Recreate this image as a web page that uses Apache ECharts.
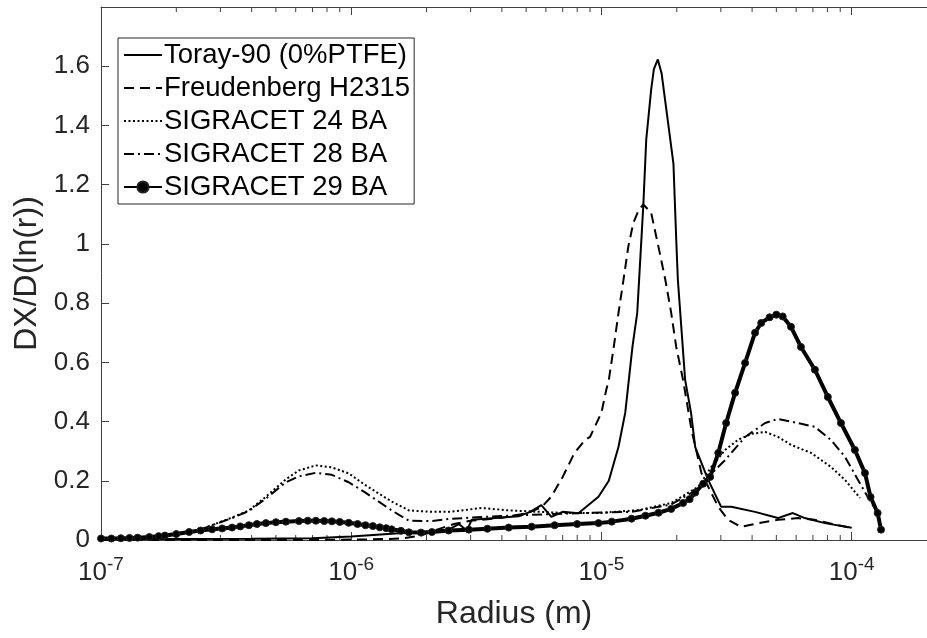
<!DOCTYPE html>
<html>
<head>
<meta charset="utf-8">
<script src="https://cdn.jsdelivr.net/npm/echarts@6/dist/echarts.min.js"></script>
<style>
html,body{margin:0;padding:0;background:#fff;}
#chart{width:927px;height:638px;}
</style>
</head>
<body>
<div id="chart"></div>
<script>
// ---------- data ----------
const seriesNames = ['Toray-90 (0%PTFE)', 'Freudenberg H2315', 'SIGRACET 24 BA', 'SIGRACET 28 BA', 'SIGRACET 29 BA'];

const radiusToray = [1e-7, 2e-7, 4e-7, 7e-7, 1e-6, 1.5e-6, 2e-6, 2.45e-6, 2.69e-6, 2.9e-6, 3.03e-6, 3.9e-6, 4.66e-6, 5.2e-6, 5.75e-6, 6.31e-6, 7.0e-6, 8.09e-6, 9.73e-6, 1.07e-5, 1.17e-5, 1.245e-5, 1.33e-5, 1.39e-5, 1.47e-5, 1.51e-5, 1.58e-5, 1.62e-5, 1.68e-5, 1.74e-5, 1.81e-5, 1.94e-5, 1.99e-5, 2.02e-5, 2.16e-5, 2.28e-5, 2.37e-5, 2.67e-5, 3.01e-5, 3.30e-5, 4.11e-5, 5.07e-5, 5.82e-5, 6.50e-5, 7.82e-5, 1.0e-4];
const valueToray = [0.003, 0.003, 0.004, 0.006, 0.012, 0.022, 0.028, 0.035, 0.054, 0.032, 0.068, 0.075, 0.080, 0.095, 0.118, 0.078, 0.095, 0.090, 0.146, 0.200, 0.315, 0.430, 0.652, 0.767, 1.130, 1.352, 1.521, 1.590, 1.623, 1.575, 1.464, 1.270, 1.014, 0.879, 0.541, 0.430, 0.314, 0.203, 0.112, 0.112, 0.095, 0.074, 0.091, 0.074, 0.057, 0.041];

const radiusFreud = [1e-7, 3e-7, 7e-7, 1.2e-6, 1.6e-6, 1.9e-6, 2.2e-6, 2.6e-6, 3.0e-6, 4.0e-6, 5.0e-6, 5.75e-6, 6.3e-6, 7.0e-6, 7.8e-6, 8.6e-6, 9.0e-6, 1.0e-5, 1.045e-5, 1.07e-5, 1.12e-5, 1.17e-5, 1.225e-5, 1.28e-5, 1.34e-5, 1.41e-5, 1.47e-5, 1.58e-5, 1.69e-5, 1.80e-5, 1.90e-5, 1.99e-5, 2.12e-5, 2.22e-5, 2.29e-5, 2.51e-5, 2.93e-5, 3.21e-5, 3.61e-5, 4.23e-5, 5.08e-5, 6.10e-5, 7.13e-5, 8.80e-5, 1.0e-4];
const valueFreud = [0.000, 0.000, 0.000, 0.002, 0.005, 0.015, 0.035, 0.055, 0.065, 0.075, 0.090, 0.110, 0.146, 0.213, 0.294, 0.338, 0.348, 0.430, 0.507, 0.540, 0.652, 0.767, 0.879, 0.990, 1.070, 1.115, 1.133, 1.105, 0.990, 0.879, 0.767, 0.652, 0.540, 0.440, 0.372, 0.226, 0.112, 0.068, 0.044, 0.057, 0.068, 0.074, 0.068, 0.050, 0.041];

const radiusS24 = [1e-7, 1.56e-7, 2.0e-7, 2.47e-7, 3.34e-7, 3.9e-7, 4.56e-7, 5.48e-7, 6.18e-7, 7.22e-7, 8.37e-7, 9.77e-7, 1.14e-6, 1.45e-6, 1.70e-6, 2.10e-6, 2.45e-6, 3.33e-6, 4.26e-6, 7.19e-6, 9.73e-6, 1.41e-5, 1.90e-5, 2.44e-5, 2.75e-5, 3.12e-5, 3.51e-5, 3.96e-5, 4.51e-5, 5.08e-5, 5.73e-5, 6.89e-5, 8.26e-5, 9.40e-5, 1.08e-4];
const valueS24 = [0.003, 0.008, 0.018, 0.034, 0.076, 0.100, 0.146, 0.205, 0.235, 0.252, 0.245, 0.225, 0.185, 0.130, 0.100, 0.095, 0.095, 0.108, 0.100, 0.091, 0.091, 0.101, 0.125, 0.180, 0.247, 0.304, 0.338, 0.358, 0.365, 0.348, 0.321, 0.294, 0.247, 0.203, 0.142];

const radiusS28 = [1e-7, 1.56e-7, 2.0e-7, 2.47e-7, 3.34e-7, 3.9e-7, 4.56e-7, 5.48e-7, 6.18e-7, 7.22e-7, 8.37e-7, 9.77e-7, 1.14e-6, 1.45e-6, 1.70e-6, 2.10e-6, 2.45e-6, 3.33e-6, 5.26e-6, 8.3e-6, 1.32e-5, 1.9e-5, 2.3e-5, 2.6e-5, 3.12e-5, 3.75e-5, 4.51e-5, 5.08e-5, 6.10e-5, 7.13e-5, 8.26e-5, 9.40e-5, 1.06e-4, 1.16e-4, 1.27e-4, 1.30e-4];
const valueS28 = [0.003, 0.008, 0.018, 0.034, 0.074, 0.098, 0.140, 0.195, 0.215, 0.227, 0.220, 0.195, 0.160, 0.100, 0.065, 0.064, 0.071, 0.078, 0.085, 0.091, 0.095, 0.120, 0.160, 0.203, 0.270, 0.348, 0.395, 0.409, 0.395, 0.382, 0.338, 0.281, 0.203, 0.145, 0.091, 0.040];

const radiusS29 = [1e-7, 1.1e-7, 1.2e-7, 1.3e-7, 1.4e-7, 1.56e-7, 1.7e-7, 1.8e-7, 2.0e-7, 2.25e-7, 2.5e-7, 2.78e-7, 3.05e-7, 3.34e-7, 3.6e-7, 3.9e-7, 4.2e-7, 4.56e-7, 5.0e-7, 5.48e-7, 6.18e-7, 6.7e-7, 7.22e-7, 7.8e-7, 8.37e-7, 9.0e-7, 9.77e-7, 1.06e-6, 1.14e-6, 1.22e-6, 1.3e-6, 1.38e-6, 1.45e-6, 1.58e-6, 1.70e-6, 1.9e-6, 2.10e-6, 2.45e-6, 2.95e-6, 3.5e-6, 4.26e-6, 5.26e-6, 6.5e-6, 8.0e-6, 9.73e-6, 1.1e-5, 1.32e-5, 1.5e-5, 1.69e-5, 1.9e-5, 2.12e-5, 2.25e-5, 2.37e-5, 2.55e-5, 2.72e-5, 2.93e-5, 3.15e-5, 3.42e-5, 3.75e-5, 4.11e-5, 4.35e-5, 4.7e-5, 5.0e-5, 5.3e-5, 5.72e-5, 6.27e-5, 7.13e-5, 8.03e-5, 9.06e-5, 1.03e-4, 1.13e-4, 1.19e-4, 1.27e-4, 1.31e-4];
const valueS29 = [0.005, 0.005, 0.006, 0.007, 0.008, 0.010, 0.013, 0.015, 0.020, 0.027, 0.032, 0.036, 0.039, 0.042, 0.046, 0.050, 0.054, 0.057, 0.060, 0.062, 0.064, 0.065, 0.065, 0.064, 0.063, 0.061, 0.058, 0.054, 0.050, 0.047, 0.043, 0.040, 0.036, 0.031, 0.026, 0.025, 0.027, 0.032, 0.035, 0.038, 0.042, 0.045, 0.050, 0.054, 0.057, 0.062, 0.072, 0.082, 0.092, 0.105, 0.125, 0.138, 0.160, 0.190, 0.213, 0.294, 0.395, 0.497, 0.598, 0.700, 0.733, 0.752, 0.761, 0.755, 0.720, 0.652, 0.575, 0.483, 0.395, 0.304, 0.226, 0.145, 0.091, 0.035];

const xMin = 1e-7, xMax = 2e-4;
const yMin = 0, yMax = 1.8, yStep = 0.2;
const xAxisTitle = 'Radius (m)';
const yAxisTitle = 'DX/D(ln(r))';

// ---------- chart ----------
const pair = (xs, ys) => xs.map((x, i) => [x, ys[i]]);
const FONT = '"Liberation Sans", Arial, Helvetica, sans-serif';
const AX = '#404040';
const TXT = '#262626';

const minorTicks = [];
for (let k = -7; k <= -4; k++) {
  for (let m = 2; m <= 9; m++) {
    const r = m * Math.pow(10, k);
    if (r < xMax) minorTicks.push([r, 0]);
  }
}

function decadeLabel(v) {
  const e = Math.log10(v);
  const re = Math.round(e);
  if (Math.abs(e - re) > 1e-6) return '';
  return '{b|10}{s|' + re + '}';
}

const labelRich = {
  b: { fontSize: 26, lineHeight: 26, color: TXT, fontFamily: FONT, verticalAlign: 'bottom' },
  s: { fontSize: 19, lineHeight: 19, color: TXT, fontFamily: FONT, verticalAlign: 'bottom', padding: [0, 0, 12, 0] }
};

const lineBase = { type: 'line', symbol: 'none', smooth: false, animation: false, z: 3 };
const noMarker = { opacity: 0, color: 'rgba(0,0,0,0)', borderWidth: 0 };

const chart = echarts.init(document.getElementById('chart'), null, { renderer: 'canvas' });
chart.setOption({
  backgroundColor: '#ffffff',
  animation: false,
  textStyle: { fontFamily: FONT },
  grid: { left: 101, top: 7, right: -5, bottom: 98, containLabel: false },
  legend: {
    orient: 'vertical',
    left: 118, top: 38,
    data: [
      { name: seriesNames[0], itemStyle: noMarker },
      { name: seriesNames[1], itemStyle: noMarker },
      { name: seriesNames[2], itemStyle: noMarker },
      { name: seriesNames[3], itemStyle: noMarker },
      { name: seriesNames[4] }
    ],
    padding: [3, 4, 3, 5],
    itemGap: 5,
    itemWidth: 38,
    itemHeight: 14,
    backgroundColor: '#ffffff',
    borderColor: '#262626',
    borderWidth: 1,
    borderRadius: 0,
    textStyle: { fontSize: 27.5, color: '#000', fontFamily: FONT, padding: [0, 0, 0, -3] },
    selectedMode: false
  },
  xAxis: [
    {
      type: 'log', logBase: 10, min: xMin, max: xMax, position: 'bottom',
      name: xAxisTitle, nameLocation: 'middle', nameGap: 58,
      nameTextStyle: { fontSize: 32, color: TXT, fontFamily: FONT },
      axisLine: { show: true, lineStyle: { color: AX, width: 1 } },
      axisTick: { show: true, inside: true, length: 8, lineStyle: { color: AX } },
      minorTick: { show: false },
      splitLine: { show: false },
      axisLabel: { margin: 20, formatter: decadeLabel, rich: labelRich, showMaxLabel: false }
    },
    {
      type: 'log', logBase: 10, min: xMin, max: xMax, position: 'top',
      axisLine: { show: true, lineStyle: { color: AX, width: 1 } },
      axisTick: { show: true, inside: true, length: 8, lineStyle: { color: AX } },
      splitLine: { show: false },
      axisLabel: { show: false }
    }
  ],
  yAxis: {
    type: 'value', min: yMin, max: yMax, interval: yStep,
    name: yAxisTitle, nameLocation: 'middle', nameGap: 57,
    nameTextStyle: { fontSize: 32, color: TXT, fontFamily: FONT },
    axisLine: { show: true, lineStyle: { color: AX, width: 1 } },
    axisTick: { show: true, inside: true, length: 8, lineStyle: { color: AX } },
    splitLine: { show: false },
    axisLabel: {
      margin: 11, fontSize: 26, color: TXT, fontFamily: FONT,
      formatter: v => (Math.abs(v - yMax) < 1e-9 ? '' : String(Math.round(v * 10) / 10))
    }
  },
  series: [
    Object.assign({}, lineBase, {
      name: seriesNames[0], data: pair(radiusToray, valueToray),
      lineStyle: { color: '#000', width: 2, type: 'solid' }, itemStyle: { color: '#000' }
    }),
    Object.assign({}, lineBase, {
      name: seriesNames[1], data: pair(radiusFreud, valueFreud),
      lineStyle: { color: '#000', width: 2, type: [10, 6] }, itemStyle: { color: '#000' }
    }),
    Object.assign({}, lineBase, {
      name: seriesNames[2], data: pair(radiusS24, valueS24),
      lineStyle: { color: '#000', width: 2, type: [2, 2.5] }, itemStyle: { color: '#000' }
    }),
    Object.assign({}, lineBase, {
      name: seriesNames[3], data: pair(radiusS28, valueS28),
      lineStyle: { color: '#000', width: 2, type: [10, 4, 2, 4] }, itemStyle: { color: '#000' }
    }),
    Object.assign({}, lineBase, {
      name: seriesNames[4], data: pair(radiusS29, valueS29),
      symbol: 'circle', symbolSize: 7, showSymbol: true,
      lineStyle: { color: '#000', width: 4, type: 'solid' },
      itemStyle: { color: '#000', borderColor: '#222', borderWidth: 1 }
    }),
    {
      type: 'custom', silent: true, animation: false, z: 2,
      xAxisIndex: 0, yAxisIndex: 0,
      data: minorTicks,
      encode: { x: 0, y: 1 },
      renderItem: function (params, api) {
        const r = api.value(0);
        const b = api.coord([r, yMin]);
        const t = api.coord([r, yMax]);
        const st = { stroke: AX, lineWidth: 1 };
        return {
          type: 'group',
          children: [
            { type: 'line', shape: { x1: b[0], y1: b[1], x2: b[0], y2: b[1] - 5 }, style: st },
            { type: 'line', shape: { x1: t[0], y1: t[1], x2: t[0], y2: t[1] + 5 }, style: st }
          ]
        };
      }
    }
  ]
});
</script>
</body>
</html>
